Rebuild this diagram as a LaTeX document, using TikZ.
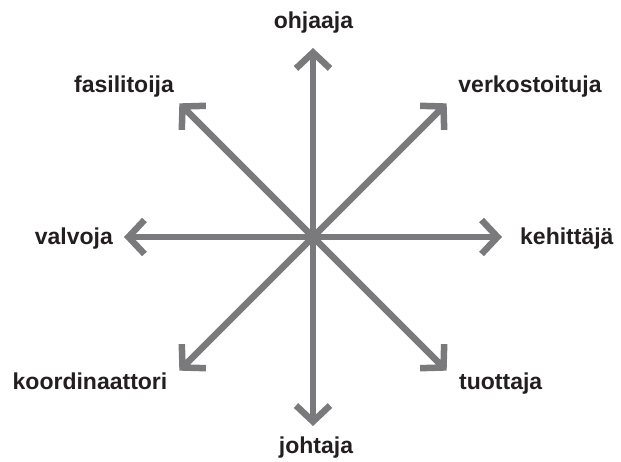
\documentclass[tikz,border=0pt]{standalone}
\usepackage{fontspec}
\setmainfont{Liberation Sans}
\usetikzlibrary{arrows.meta,calc,positioning}
\definecolor{armCol}{HTML}{7A7A7C}
\definecolor{txtCol}{HTML}{231F20}

\begin{document}
\begin{tikzpicture}[x=1pt,y=1pt,every node/.style={font=\fontsize{23}{27}\selectfont\bfseries,text=txtCol,inner sep=0pt}]
  \tikzset{arm/.style={draw=armCol,line width=6.5pt,-{Straight Barb[length=16pt,width=34pt]}}}
  \useasboundingbox (0,0) rectangle (621,461);
  \coordinate (c) at (313,224);
  % tips of the eight arms
  \coordinate (tN) at ($(c)+(90:189)$);
  \coordinate (tNE) at ($(c)+(45:189)$);
  \coordinate (tE) at ($(c)+(0:189)$);
  \coordinate (tSE) at ($(c)+(-45:189)$);
  \coordinate (tS) at ($(c)+(-90:189)$);
  \coordinate (tSW) at ($(c)+(-135:189)$);
  \coordinate (tW) at ($(c)+(180:189)$);
  \coordinate (tNW) at ($(c)+(135:189)$);
  \draw[arm] (c)--(tN);
  \draw[arm] (c)--(tNE);
  \draw[arm] (c)--(tE);
  \draw[arm] (c)--(tSE);
  \draw[arm] (c)--(tS);
  \draw[arm] (c)--(tSW);
  \draw[arm] (c)--(tW);
  \draw[arm] (c)--(tNW);
  % labels
  \node[anchor=base] (ohj) at (313.5,432) {ohjaaja};
  \node[anchor=base] (ver) at (530,368) {verkostoituja};
  \node[anchor=base west] (keh) at (520,216) {kehittäjä};
  \node[anchor=base west] (tuo) at (459,72) {tuottaja};
  \node[anchor=base] (joh) at (316,8) {johtaja};
  \node[anchor=base] (koo) at (90,72) {koordinaattori};
  \node[anchor=base east] (val) at (113,216) {valvoja};
  \node[anchor=base] (fas) at (124,368) {fasilitoija};
\end{tikzpicture}
\end{document}
